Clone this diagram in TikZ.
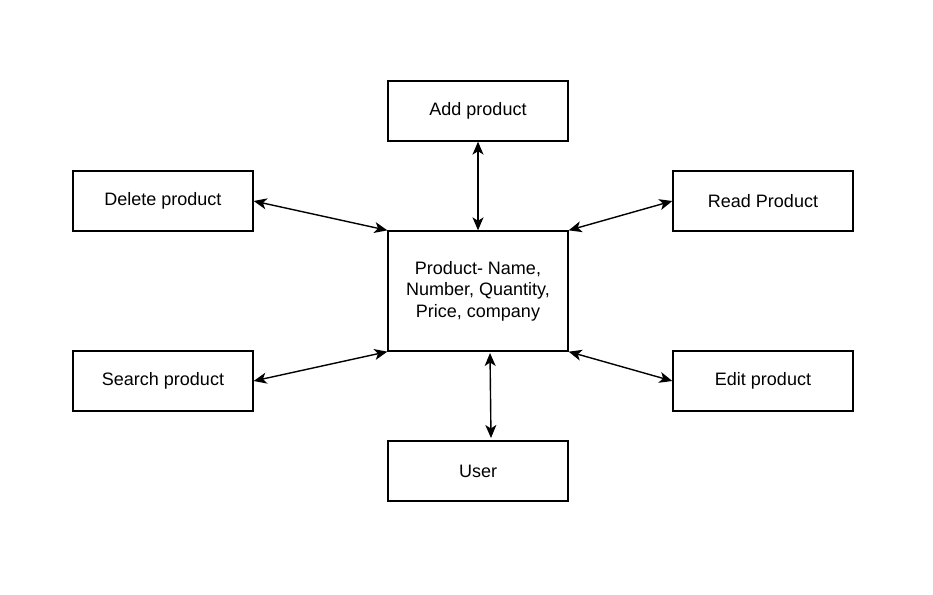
\documentclass[tikz,border=0pt]{standalone}
\usepackage{fontspec}
\setmainfont{Liberation Sans}
\usetikzlibrary{arrows.meta}
\begin{document}
\begin{tikzpicture}[x=1pt,y=-1pt,
  box/.style={draw=black,line width=1.3pt,fill=white,minimum width=180pt,minimum height=60pt,inner sep=0pt,font=\fontsize{18pt}{21.5pt}\selectfont,align=center},
  link/.style={line width=1.4pt,{Stealth[length=13pt,width=11pt,inset=3.5pt]}-{Stealth[length=13pt,width=11pt,inset=3.5pt]}}]
\useasboundingbox (0,0) rectangle (933,594);
\node[box] (add) at (478,111) {Add product};
\node[box] (del) at (163,201) {Delete product};
\node[box] (read) at (763,201) {Read Product};
\node[box,minimum height=120pt] (ctr) at (478,291) {Product- Name,\\Number, Quantity,\\Price, company};
\node[box] (search) at (163,381) {Search product};
\node[box] (edit) at (763,381) {Edit product};
\node[box] (user) at (478,471) {User};
\coordinate (u1) at (490,353);
\coordinate (u2) at (491,438);
\draw[link] (add.south) -- (ctr.north);
\draw[link] (del.east) -- (ctr.north west);
\draw[link] (ctr.north east) -- (read.west);
\draw[link] (search.east) -- (ctr.south west);
\draw[link] (ctr.south east) -- (edit.west);
\draw[link] (u1) -- (u2);
\end{tikzpicture}
\end{document}
